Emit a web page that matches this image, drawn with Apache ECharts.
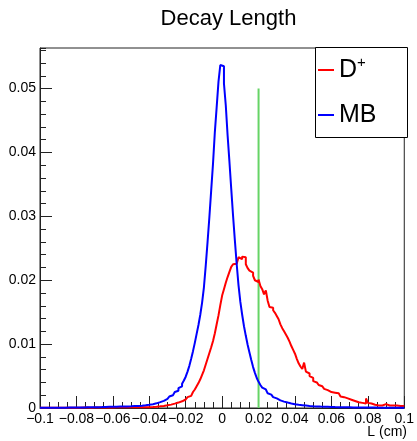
<!DOCTYPE html>
<html>
<head>
<meta charset="utf-8">
<script src="https://cdn.jsdelivr.net/npm/echarts@6/dist/echarts.min.js"></script>
<style>
html, body { margin: 0; padding: 0; background: #fff; }
#chart { width: 417px; height: 441px; }
</style>
</head>
<body>
<div id="chart"></div>
<script>
// binning of both histograms
const binLow = -0.1;
const binWidth = 0.001;

// D+ decay length, 200 bins
const dplusCounts = [
    0.00002,0.00003,0.00002,0.00003,0.00003,0.00002,0.00004,0.00003,0.00003,0.00004,
    0.00003,0.00004,0.00004,0.00003,0.00004,0.00005,0.00004,0.00004,0.00005,0.00005,
    0.00004,0.00005,0.00005,0.00006,0.00005,0.00006,0.00006,0.00005,0.00006,0.00007,
    0.00006,0.00007,0.00007,0.00008,0.00007,0.00008,0.00008,0.00009,0.00008,0.00009,
    0.00009,0.0001,0.00009,0.0001,0.0001,0.00011,0.0001,0.00011,0.00011,0.00012,
    0.00011,0.00012,0.00012,0.00012,0.00013,0.00012,0.00013,0.00013,0.00014,0.00013,
    0.00014,0.00015,0.00017,0.0002,0.00022,0.00026,0.0003,0.00033,0.00037,0.00042,
    0.00048,0.00053,0.0006,0.00068,0.00076,0.00085,0.00093,0.00105,0.0012,0.00133,
    0.0015,0.0017,0.0019,0.0022,0.0025,0.0029,0.0034,0.0039,0.0045,0.0052,
    0.0059,0.0068,0.0077,0.0086,0.0095,0.0105,0.0117,0.0131,0.0145,0.0161,
    0.0176,0.0186,0.0196,0.0205,0.0213,0.0221,0.0225,0.0226,0.0227,0.0236,
    0.0233,0.0237,0.0236,0.0225,0.0219,0.0215,0.0212,0.0207,0.02,0.0197,
    0.0201,0.0191,0.0186,0.0178,0.0184,0.0168,0.0158,0.0157,0.0153,0.0149,
    0.0144,0.0139,0.0131,0.0125,0.012,0.0115,0.011,0.0104,0.0097,0.0091,
    0.0085,0.0077,0.007,0.0065,0.0061,0.0071,0.0057,0.0054,0.005,0.0047,
    0.0042,0.004,0.0038,0.0036,0.0034,0.0032,0.003,0.0028,0.0027,0.0025,
    0.0025,0.0024,0.0023,0.0023,0.002,0.0018,0.0017,0.0016,0.0015,0.0014,
    0.0013,0.0012,0.0011,0.001,0.0009,0.0009,0.0008,0.0008,0.0007,0.0015,
    0.0008,0.0007,0.0006,0.0005,0.0005,0.0004,0.0005,0.0004,0.0006,0.0006,
    0.0005,0.0004,0.0004,0.0004,0.0003,0.0004,0.0003,0.0003,0.0003,0.0003
];

// minimum bias decay length, 200 bins
const mbCounts = [
    0.00003,0.00003,0.00004,0.00003,0.00004,0.00004,0.00004,0.00005,0.00004,0.00005,
    0.00005,0.00005,0.00006,0.00005,0.00006,0.00006,0.00007,0.00007,0.00007,0.00008,
    0.00008,0.00008,0.00009,0.00009,0.0001,0.0001,0.0001,0.00011,0.00011,0.00012,
    0.00012,0.00013,0.00014,0.00014,0.00015,0.00016,0.00017,0.00018,0.00019,0.0002,
    0.0002,0.00021,0.00021,0.00022,0.00023,0.00023,0.00024,0.00025,0.00026,0.00027,
    0.00028,0.0003,0.00031,0.00033,0.00035,0.00037,0.0004,0.00043,0.00046,0.0005,
    0.00055,0.0006,0.00066,0.00073,0.0008,0.00092,0.001,0.00112,0.00125,0.00142,
    0.0016,0.0018,0.002,0.0022,0.0025,0.0027,0.0031,0.0034,0.0038,0.0043,
    0.0049,0.0057,0.0066,0.0077,0.0089,0.0102,0.0116,0.013,0.0146,0.0165,
    0.0189,0.0223,0.026,0.0299,0.0341,0.0383,0.0432,0.0471,0.0511,0.0537,
    0.0535,0.0508,0.0474,0.0427,0.0386,0.0343,0.0301,0.0262,0.0225,0.0192,
    0.0166,0.0146,0.0128,0.0113,0.0099,0.0087,0.0075,0.0064,0.0055,0.0047,
    0.0041,0.0036,0.0032,0.0029,0.0026,0.0023,0.0021,0.0019,0.0017,0.0015,
    0.0013,0.0012,0.0011,0.001,0.0009,0.00085,0.0008,0.00072,0.00065,0.0006,
    0.00055,0.0005,0.00047,0.00044,0.00041,0.00038,0.00035,0.00032,0.0003,0.00028,
    0.00026,0.00025,0.00023,0.00022,0.00021,0.0002,0.00019,0.00018,0.00017,0.00016,
    0.00015,0.00014,0.00014,0.00013,0.00012,0.00012,0.00011,0.00011,0.0001,0.0001,
    0.0001,0.00009,0.00009,0.00008,0.00008,0.00008,0.00007,0.00007,0.00007,0.00006,
    0.00006,0.00006,0.00005,0.00006,0.00005,0.00005,0.00005,0.00004,0.00005,0.00004,
    0.00004,0.00004,0.00004,0.00003,0.00004,0.00003,0.00003,0.00003,0.00003,0.00003
];

// cut line
const cutX = [0.02, 0.02];
const cutY = [0, 0.05];

const xTicks = [-0.1, -0.08, -0.06, -0.04, -0.02, 0, 0.02, 0.04, 0.06, 0.08, 0.1];
const yTicks = [0, 0.01, 0.02, 0.03, 0.04, 0.05];
const yMax = 0.05636;

const FONT = 'Liberation Sans, Arial, Helvetica, sans-serif';

// histogram -> step points at bin edges
function toSteps(counts) {
    const pts = counts.map((c, i) => [binLow + i * binWidth, c]);
    pts.push([binLow + counts.length * binWidth, counts[counts.length - 1]]);
    return pts;
}

function fmt(v) {
    const r = Math.round(v * 1000) / 1000;
    if (r === 0) return '0';
    return (r < 0 ? '\u2212' : '') + String(Math.abs(r));
}

const chart = echarts.init(document.getElementById('chart'), null, { renderer: 'canvas' });

const majorTickStyle = { color: '#222', width: 1 };

chart.setOption({
    animation: false,
    backgroundColor: '#fff',
    title: {
        text: 'Decay Length',
        left: 223.5,
        textAlign: 'center',
        top: 3,
        textStyle: { fontFamily: FONT, fontSize: 22, fontWeight: 'normal', color: '#000' }
    },
    grid: {
        left: 40, right: 10, top: 48, bottom: 33,
        show: true, borderColor: '#222', borderWidth: 1, backgroundColor: 'transparent'
    },
    legend: {
        data: ['D+', 'MB'],
        orient: 'vertical',
        left: 318,
        top: 55,
        padding: 0,
        itemWidth: 16,
        itemHeight: 2,
        itemGap: 15,
        icon: 'rect',
        selectedMode: false,
        z: 10,
        formatter: name => name === 'D+' ? 'D{sup|+}' : name,
        textStyle: {
            fontFamily: FONT, fontSize: 25, color: '#000', lineHeight: 30,
            rich: {
                sup: { fontFamily: FONT, fontSize: 15, color: '#000', verticalAlign: 'top', lineHeight: 30, padding: [0, 0, 12, 0] }
            }
        }
    },
    graphic: [{
        type: 'rect',
        z: 5,
        shape: { x: 315.5, y: 47.5, width: 92, height: 90 },
        style: { fill: '#fff', stroke: '#000', lineWidth: 1 }
    }, {
        type: 'text',
        z: 5,
        style: {
            text: 'L (cm)', x: 407, y: 425, align: 'right', verticalAlign: 'top',
            fontFamily: FONT, fontSize: 14, fill: '#000'
        }
    }],
    xAxis: [{
        type: 'value',
        min: xTicks[0],
        max: xTicks[xTicks.length - 1],
        interval: 0.02,
        position: 'bottom',
        axisLine: { onZero: false, lineStyle: { color: '#222', width: 1 } },
        axisTick: { inside: true, length: 12, lineStyle: majorTickStyle },
        axisLabel: { margin: 4, fontFamily: FONT, fontSize: 14, color: '#000', formatter: fmt, showMinLabel: true, showMaxLabel: true },
        splitLine: { show: false }
    }, {
        type: 'value',
        min: xTicks[0],
        max: xTicks[xTicks.length - 1],
        interval: 0.005,
        position: 'bottom',
        axisLine: { show: false, onZero: false },
        axisTick: { inside: true, length: 6, lineStyle: majorTickStyle },
        axisLabel: { show: false },
        splitLine: { show: false }
    }],
    yAxis: [{
        type: 'value',
        min: yTicks[0],
        max: yMax,
        interval: 0.01,
        position: 'left',
        axisLine: { show: true, onZero: false, lineStyle: { color: '#222', width: 1 } },
        axisTick: { inside: true, length: 12, lineStyle: majorTickStyle },
        axisLabel: { margin: 4, fontFamily: FONT, fontSize: 14, color: '#000', formatter: fmt, showMaxLabel: false },
        splitLine: { show: false }
    }, {
        type: 'value',
        min: yTicks[0],
        max: yMax,
        interval: 0.002,
        position: 'left',
        axisLine: { show: false, onZero: false },
        axisTick: { inside: true, length: 6, lineStyle: majorTickStyle },
        axisLabel: { show: false },
        splitLine: { show: false }
    }],
    series: [{
        name: 'D+',
        type: 'line',
        step: 'end',
        xAxisIndex: 0, yAxisIndex: 0,
        symbol: 'none',
        data: toSteps(dplusCounts),
        itemStyle: { color: '#ff0000' },
        lineStyle: { color: '#ff0000', width: 2 },
        z: 3
    }, {
        name: 'MB',
        type: 'line',
        step: 'end',
        xAxisIndex: 0, yAxisIndex: 0,
        symbol: 'none',
        data: toSteps(mbCounts),
        itemStyle: { color: '#0000ff' },
        lineStyle: { color: '#0000ff', width: 2 },
        z: 4
    }, {
        name: 'cut',
        type: 'line',
        xAxisIndex: 0, yAxisIndex: 0,
        symbol: 'none',
        data: cutX.map((x, i) => [x, cutY[i]]),
        itemStyle: { color: '#66d466' },
        lineStyle: { color: '#66d466', width: 2 },
        z: 2
    }]
});
</script>
</body>
</html>
